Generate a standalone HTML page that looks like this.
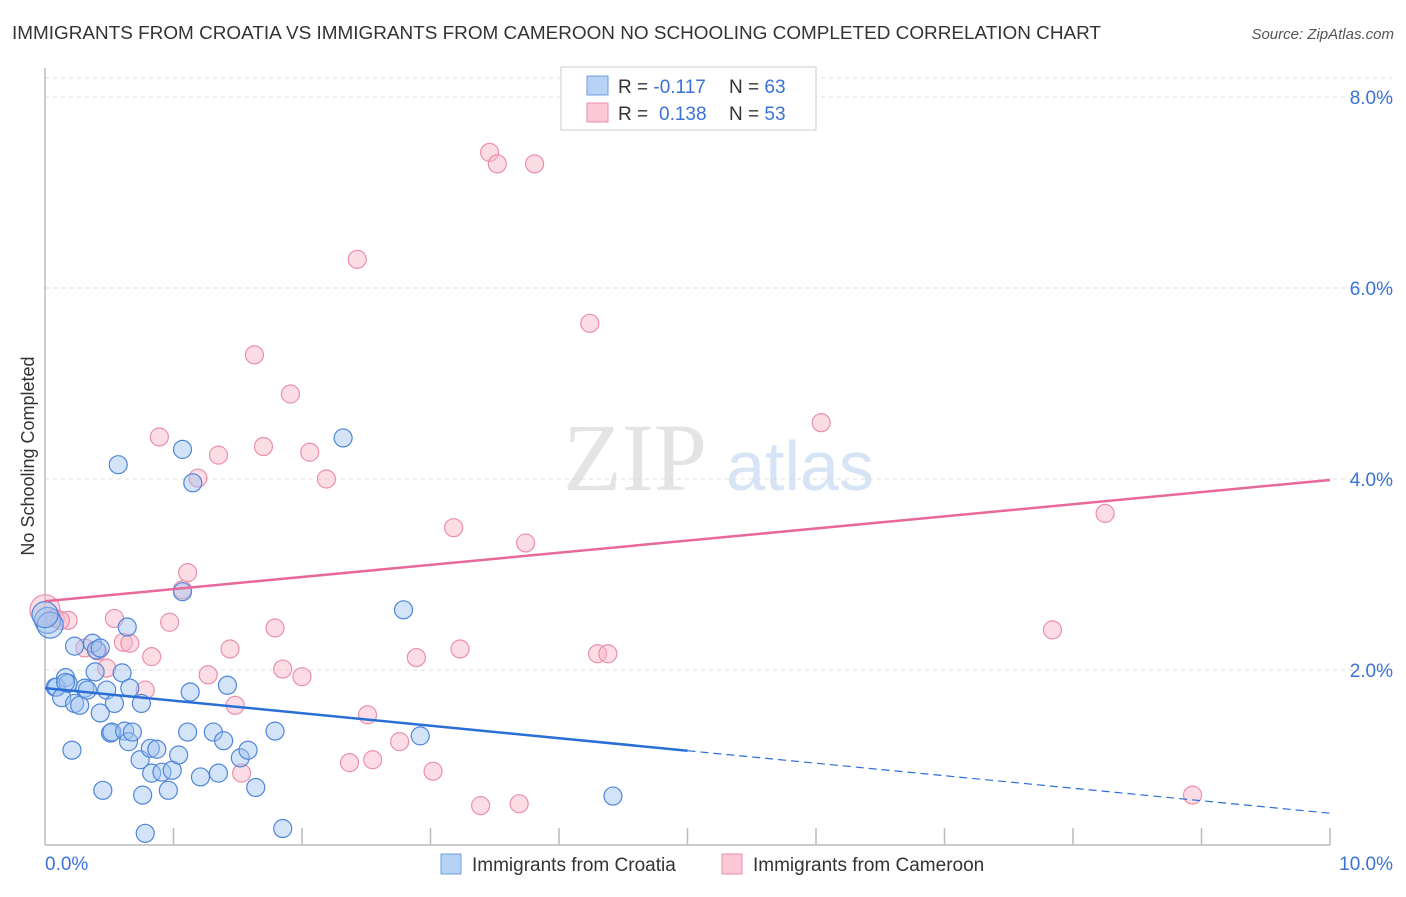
<!DOCTYPE html>
<html><head><meta charset="utf-8"><style>
body{margin:0;background:#fff;font-family:"Liberation Sans",sans-serif}
</style></head><body>
<svg id="c" width="1406" height="892" xmlns="http://www.w3.org/2000/svg">
<text x="12" y="39" font-size="18" fill="#333" textLength="1089" lengthAdjust="spacingAndGlyphs">IMMIGRANTS FROM CROATIA VS IMMIGRANTS FROM CAMEROON NO SCHOOLING COMPLETED CORRELATION CHART</text>
<text x="1394" y="39" font-size="15" fill="#555" font-style="italic" text-anchor="end">Source: ZipAtlas.com</text>
<text x="635" y="490" font-size="96" fill="#e4e4e4" font-family="Liberation Serif,serif" text-anchor="middle">ZIP</text>
<text x="800" y="490" font-size="70" fill="#d6e4f5" text-anchor="middle">atlas</text>
<text transform="translate(34,456) rotate(-90)" font-size="18" fill="#333" text-anchor="middle">No Schooling Completed</text>
<g id="grid"></g><g id="axes"></g><g id="pts"></g><g id="lines"></g>
<g>
<rect x="561" y="67" width="255" height="63" fill="#fff" stroke="#ccc"/>
<rect x="587" y="76" width="21" height="19" fill="#b8d2f5" stroke="#6d9ee0"/>
<rect x="587" y="103" width="21" height="19" fill="#fac8d6" stroke="#eb8fab"/>
<text x="618" y="93" font-size="19" fill="#333">R = <tspan fill="#3a72d8">-0.117</tspan><tspan x="729">N = </tspan><tspan fill="#3a72d8">63</tspan></text>
<text x="618" y="120" font-size="19" fill="#333">R = <tspan x="659" fill="#3a72d8">0.138</tspan><tspan x="729">N = </tspan><tspan fill="#3a72d8">53</tspan></text>
</g>
<g>
<rect x="441" y="854" width="20" height="20" fill="#b8d2f5" stroke="#6d9ee0"/>
<text x="472" y="871" font-size="19" fill="#333">Immigrants from Croatia</text>
<rect x="722" y="854" width="20" height="20" fill="#fac8d6" stroke="#eb8fab"/>
<text x="753" y="871" font-size="19" fill="#333">Immigrants from Cameroon</text>
</g>
</svg>
<script>
const yTicks=[2,4,6,8];
const xTickLabels=["0.0%","10.0%"];
const croatiaX=[0.02,0.04,0,0.08,0.09,0.13,0.16,0.18,0.23,0.27,0.21,0.31,0.33,0.37,0.39,0.40,0.43,0.45,0.48,0.51,0.52,0.54,0.57,0.60,0.62,0.64,0.65,0.66,0.68,0.74,0.75,0.76,0.78,0.82,0.83,0.87,0.91,0.96,0.99,1.04,1.07,1.07,1.11,1.13,1.15,1.21,1.31,1.35,1.39,1.42,1.52,1.58,1.64,1.79,1.85,2.32,2.79,2.92,4.42,0.23,0.16,0.43];
const croatiaY=[2.52,2.47,2.58,1.82,1.82,1.71,1.92,1.86,1.65,1.63,1.16,1.81,1.79,2.28,1.98,2.21,1.55,0.74,1.79,1.34,1.35,1.65,4.15,1.97,1.36,2.45,1.25,1.81,1.35,1.06,1.65,0.69,0.29,1.18,0.92,1.17,0.93,0.74,0.95,1.11,4.31,2.82,1.35,1.77,3.96,0.88,1.35,0.92,1.26,1.84,1.08,1.16,0.77,1.36,0.34,4.43,2.63,1.31,0.68,2.25,1.87,2.23];
const cameroonX=[0,0.08,0.18,0.12,0.31,0.41,0.48,0.54,0.61,0.66,0.78,0.83,0.89,0.97,1.07,1.11,1.19,1.27,1.35,1.44,1.48,1.53,1.63,1.70,1.79,1.85,1.91,2.00,2.06,2.19,2.37,2.43,2.51,2.55,2.76,2.89,3.02,3.18,3.23,3.39,3.46,3.52,3.69,3.74,3.81,4.24,4.30,4.38,4.65,6.04,7.84,8.25,8.93];
const cameroonY=[2.63,2.54,2.52,2.52,2.23,2.20,2.02,2.54,2.29,2.28,1.79,2.14,4.44,2.50,2.84,3.02,4.01,1.95,4.25,2.22,1.63,0.92,5.30,4.34,2.44,2.01,4.89,1.93,4.28,4.00,1.03,6.30,1.53,1.06,1.25,2.13,0.94,3.49,2.22,0.58,7.42,7.30,0.60,3.33,7.30,5.63,2.17,2.17,8.18,4.59,2.42,3.64,0.69];
const cameroonTrend=[2.72,3.99];
const croatiaTrend=[1.81,0.50];
const croatiaSolidEnd=5.0;

const NS="http://www.w3.org/2000/svg";
const X=v=>45+v*128.5, Y=v=>861-v*95.5;
function mk(p,t,a){const e=document.createElementNS(NS,t);for(const k in a)e.setAttribute(k,a[k]);p.appendChild(e);return e;}
const grid=document.getElementById('grid'),axes=document.getElementById('axes'),pts=document.getElementById('pts'),lines=document.getElementById('lines');
for(const t of yTicks){
 const l=mk(grid,'line',{x1:45,x2:1392,y1:Y(t),y2:Y(t),stroke:'#ddd','stroke-dasharray':'4,4'});
 
 
 const tx=mk(grid,'text',{x:1393,y:Y(t)+7,'font-size':19,fill:'#3a72d8','text-anchor':'end'});tx.textContent=t.toFixed(1)+'%';
 
 
}
const topLine=mk(grid,'line',{x1:45,x2:1392,y1:78,y2:78,stroke:'#ddd','stroke-dasharray':'4,4'});


const ya=mk(axes,'line',{x1:45,x2:45,y1:68,y2:845,stroke:'#bbb','stroke-width':1.5});


const xa=mk(axes,'line',{x1:45,x2:1330,y1:845,y2:845,stroke:'#bbb','stroke-width':1.5});


for(let i=1;i<=10;i++){const t=mk(axes,'line',{x1:X(i),x2:X(i),y1:828,y2:845,stroke:'#bbb','stroke-width':1.5});
 
 }
const xl0=mk(axes,'text',{x:45,y:870,'font-size':19,fill:'#3a72d8'});xl0.textContent=xTickLabels[0];


const xl1=mk(axes,'text',{x:1393,y:870,'font-size':19,fill:'#3a72d8','text-anchor':'end'});xl1.textContent=xTickLabels[1];


function dots(xs,ys,fill,stroke,name){xs.forEach((x,i)=>{
 const c=mk(pts,'circle',{cx:X(x),cy:Y(ys[i]),r:(name==='croatia-point'&&i<3)?13:(name==='cameroon-point'&&i===0?15:9),fill:fill,stroke:stroke,'stroke-width':1.2});
 
 });}
dots(cameroonX,cameroonY,'rgba(248,180,200,0.45)','#eb8fab','cameroon-point');
dots(croatiaX,croatiaY,'rgba(160,195,240,0.45)','#4f86d9','croatia-point');
const pl=mk(lines,'line',{x1:X(0),y1:Y(cameroonTrend[0]),x2:X(10),y2:Y(cameroonTrend[1]),stroke:'#e8689a','stroke-width':2.5});


const by=v=>croatiaTrend[0]+(croatiaTrend[1]-croatiaTrend[0])*v/10;
const bl=mk(lines,'line',{x1:X(0),y1:Y(by(0)),x2:X(croatiaSolidEnd),y2:Y(by(croatiaSolidEnd)),stroke:'#2a6fd6','stroke-width':2.5});


const bd=mk(lines,'line',{x1:X(croatiaSolidEnd),y1:Y(by(croatiaSolidEnd)),x2:X(10),y2:Y(by(10)),stroke:'#2a6fd6','stroke-width':1.2,'stroke-dasharray':'8,5'});


</script>
</body></html>
